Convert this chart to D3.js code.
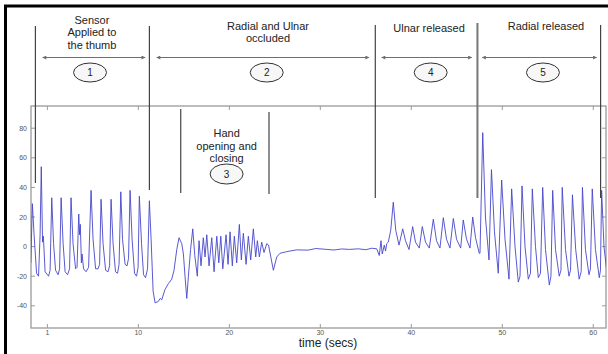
<!DOCTYPE html>
<html>
<head>
<meta charset="utf-8">
<script src="https://cdn.jsdelivr.net/npm/d3@7"></script>
<style>
  html, body { margin: 0; padding: 0; background: #fff; overflow: hidden; }
  svg { display: block; }
</style>
</head>
<body>
<div id="chart"></div>
<script>
// pulse signal: [time (s), amplitude]
const signal = [
  [-1.82,-11],[-1.65,29],[-1.46,8],[-1.19,-18],[-0.97,-20],[-0.80,8],[-0.67,54],[-0.53,3],[-0.44,7],[-0.25,-17],
  [0.13,-20],[0.30,-16],[0.48,33],[0.68,2],[0.90,-16],[1.18,-19],[1.34,-15],[1.51,33],[1.73,2],[1.95,-17],
  [2.22,-19],[2.44,-15],[2.60,33],[2.82,2],[3.10,-15],[3.26,-14],[3.45,22],[3.54,8],[3.62,15],[3.74,-11],
  [3.81,-5],[3.98,-15],[4.25,-17],[4.53,-14],[4.80,38],[5.02,5],[5.30,-15],[5.57,-15],[5.74,-12],[5.90,32],
  [6.12,2],[6.40,-16],[6.67,-17],[6.84,-13],[7.00,32],[7.22,2],[7.49,-17],[7.71,-18],[7.88,-12],[8.07,37],
  [8.26,5],[8.54,-12],[8.76,-13],[8.92,-8],[9.09,38],[9.31,5],[9.58,-18],[9.80,-20],[9.97,-14],[10.11,34],
  [10.35,2],[10.57,-19],[10.79,-21],[11.01,-15],[11.21,31],[11.40,5],[11.62,-30],[11.84,-38],
  [12.20,-37],[12.40,-35],[12.57,-36],[12.93,-29],[13.30,-25],[13.67,-22],[13.92,-16],[14.22,-2],[14.47,6],
  [14.77,2],[14.95,-5],[15.13,-20],[15.32,-35],[15.50,-20],[15.74,-2],[15.98,12],[16.20,-6],[16.48,-20],
  [16.67,4],[16.89,-13],[17.14,6],[17.33,-7],[17.52,8],[17.77,-13],[18.07,6],[18.32,-17],[18.62,7],[18.84,-11],
  [19.06,7],[19.28,-15],[19.64,8],[19.86,-12],[20.08,10],[20.33,-13],[20.55,7],[20.81,-11],[21.10,15],[21.32,-9],
  [21.54,9],[21.84,-12],[22.09,7],[22.35,-9],[22.64,12],[22.90,-7],[23.08,4],[23.30,-7],[23.56,3],[23.81,-4],
  [24.11,2],[24.31,1],[24.84,-16],[25.21,-7],[25.57,-4.5],[26.31,-3.4],[27.41,-2.2],[28.65,-2.4],[29.50,-1.3],
  [30.52,-1.8],[31.50,-2.3],[32.35,-1.6],[33.20,-1.9],[34.18,-1.5],[35.00,-2.1],[35.65,-1.1],
  [36.20,-1.5],[36.48,-6],[36.67,4],[36.81,-5],[37.03,1],[37.17,-3],[37.30,2],[37.47,3],[37.74,11],[38.02,30],
  [38.29,11],[38.65,1],[39.06,12],[39.36,4],[39.75,-2],[40.15,13.5],[40.46,3],[40.88,-1],[41.21,13.5],[41.56,3],
  [41.98,-1],[42.42,18.5],[42.77,4],[43.15,-1],[43.52,19.5],[43.87,5],[44.25,-1],[44.62,19],[44.97,5],[45.43,-1],
  [45.71,18],[46.07,5],[46.45,-1],[46.75,20],[47.06,6],[47.47,-4.5],
  [47.55,-4.5],[47.85,77],[48.15,20],[48.54,-9],[48.81,52],[49.14,10],[49.56,-18],[49.93,45],[50.30,5],[50.74,-22],
  [51.03,39],[51.40,0],[51.76,-24],[51.95,-20],[52.17,41],[52.50,0],[52.86,-22],[53.10,-18],[53.30,39],[53.65,0],
  [53.96,-21],[54.20,-18],[54.44,40],[54.75,-2],[55.17,-26],[55.35,-20],[55.54,38],[55.85,-2],[56.26,-20],[56.45,-16],
  [56.59,40],[56.95,-2],[57.33,-20],[57.50,-16],[57.71,35],[58.07,-2],[58.45,-22],[58.67,-17],[58.81,40],[59.14,-2],
  [59.53,-19],[59.69,-15],[59.89,39],[60.24,-2],[60.66,-21],[60.79,-16],[60.92,38],[61.18,0],[61.45,-15]
];

const xDomain = [-1.8, 61.4];
const yDomain = [-55, 95];
const xTicks = [0, 10, 20, 30, 40, 50, 60];
const xTickLabels = ["1", "10", "20", "30", "40", "50", "60"];
const yTicks = [-40, -20, 0, 20, 40, 60, 80];
const yTickLabels = ["-40", "-20", "0", "20", "40", "60", "80"];
const xLabel = "time (secs)";

// phase boundaries (s) and the stage annotations
const phaseBounds = [-1.32, 11.21, 36.04, 47.27, 60.81];
const handBounds = [14.66, 24.36];
const phaseNums = ["1", "2", "4", "5"];
const phaseText = [
  ["Sensor", "Applied to", "the thumb"],
  ["Radial and Ulnar", "occluded"],
  ["Ulnar released"],
  ["Radial released"]
];
const phaseTextAt = [4.9, 24.25, 41.95, 54.8];
const phaseCircleAt = [4.69, 24.11, 42.13, 54.47];
const phaseArrows = [[-0.51, 10.74], [12.02, 35.35], [36.75, 46.64], [47.8, 60.37]];
const handNum = "3";
const handText = ["Hand", "opening and", "closing"];
const handAt = 19.7;

(function() {
    const W = 608, H = 354;
    const config = {
        colors: { trace: "#4646cc", axis: "#9a9a9a", tick: "#555", ink: "#222", line: "#333", arrow: "#6f6f6f" },
        fonts: { label: '"Liberation Sans", Arial, sans-serif', tick: '"Liberation Sans", Arial, sans-serif' }
    };
    const plot = { left: 31, right: 606, top: 106, bottom: 328 };

    const svg = d3.select("#chart").append("svg")
        .attr("width", W)
        .attr("height", H);

    const x = d3.scaleLinear().domain(xDomain).range([plot.left, plot.right]);
    const y = d3.scaleLinear().domain(yDomain).range([plot.bottom, plot.top]);

    // outer frame
    svg.append("rect")
        .attr("x", 5.5).attr("y", 6)
        .attr("width", 610).attr("height", 360)
        .attr("fill", "#fff")
        .attr("stroke", "#000")
        .attr("stroke-width", 3);

    // plot box
    svg.append("rect")
        .attr("x", plot.left).attr("y", plot.top)
        .attr("width", plot.right - plot.left)
        .attr("height", plot.bottom - plot.top)
        .attr("fill", "#fff")
        .attr("stroke", config.colors.axis)
        .attr("stroke-width", 1.3);

    // ticks pointing inward on all four sides
    const tk = 4;
    const ticks = svg.append("g").attr("stroke", config.colors.axis).attr("stroke-width", 1);
    xTicks.forEach(v => {
        ticks.append("line").attr("x1", x(v)).attr("x2", x(v)).attr("y1", plot.bottom).attr("y2", plot.bottom - tk);
        ticks.append("line").attr("x1", x(v)).attr("x2", x(v)).attr("y1", plot.top).attr("y2", plot.top + tk);
    });
    yTicks.forEach(v => {
        ticks.append("line").attr("x1", plot.left).attr("x2", plot.left + tk).attr("y1", y(v)).attr("y2", y(v));
        ticks.append("line").attr("x1", plot.right).attr("x2", plot.right - tk).attr("y1", y(v)).attr("y2", y(v));
    });

    svg.append("g").selectAll("text")
        .data(xTicks)
        .enter().append("text")
        .attr("x", d => x(d))
        .attr("y", plot.bottom + 6.5)
        .attr("text-anchor", "middle")
        .attr("font-family", config.fonts.tick)
        .attr("font-size", "7px")
        .attr("fill", config.colors.tick)
        .text((d, i) => xTickLabels[i]);

    svg.append("g").selectAll("text")
        .data(yTicks)
        .enter().append("text")
        .attr("x", plot.left - 4)
        .attr("y", d => y(d) + 2.5)
        .attr("text-anchor", "end")
        .attr("font-family", config.fonts.tick)
        .attr("font-size", "7px")
        .attr("fill", config.colors.tick)
        .text((d, i) => yTickLabels[i]);

    svg.append("text")
        .attr("x", 328)
        .attr("y", 346.5)
        .attr("text-anchor", "middle")
        .attr("font-family", config.fonts.label)
        .attr("font-size", "12px")
        .attr("fill", config.colors.ink)
        .text(xLabel);

    // trace
    svg.append("clipPath").attr("id", "clip")
        .append("rect")
        .attr("x", plot.left).attr("y", plot.top)
        .attr("width", plot.right - plot.left)
        .attr("height", plot.bottom - plot.top);

    svg.append("path")
        .datum(signal)
        .attr("clip-path", "url(#clip)")
        .attr("fill", "none")
        .attr("stroke", config.colors.trace)
        .attr("stroke-width", 0.9)
        .attr("stroke-linejoin", "round")
        .attr("d", d3.line().x(d => x(d[0])).y(d => y(d[1])));

    // annotations
    const defs = svg.append("defs");
    defs.append("marker")
        .attr("id", "head")
        .attr("viewBox", "0 0 10 10")
        .attr("refX", 9).attr("refY", 5)
        .attr("markerWidth", 5).attr("markerHeight", 4)
        .attr("orient", "auto-start-reverse")
        .append("path")
        .attr("d", "M0,0L10,5L0,10Z")
        .attr("fill", config.colors.arrow);

    const lineBottoms = [183, 190, 198, 198, 198];
    const lineTops = [26, 26, 25, 23, 25];
    phaseBounds.forEach((t, i) => {
        svg.append("line")
            .attr("x1", x(t)).attr("x2", x(t))
            .attr("y1", lineTops[i]).attr("y2", lineBottoms[i])
            .attr("stroke", i === 3 ? "#777" : config.colors.line)
            .attr("stroke-width", i === 3 ? 2 : 1.1);
    });
    handBounds.forEach((t, i) => {
        svg.append("line")
            .attr("x1", x(t)).attr("x2", x(t))
            .attr("y1", i === 0 ? 109 : 112).attr("y2", i === 0 ? 193 : 194)
            .attr("stroke", config.colors.line)
            .attr("stroke-width", 1.1);
    });

    phaseArrows.forEach(a => {
        svg.append("line")
            .attr("x1", x(a[0])).attr("x2", x(a[1]))
            .attr("y1", 57.5).attr("y2", 57.5)
            .attr("stroke", config.colors.arrow)
            .attr("stroke-width", 1)
            .attr("marker-start", "url(#head)")
            .attr("marker-end", "url(#head)");
    });

    function badge(cx, cy, label, ry) {
        svg.append("ellipse")
            .attr("cx", cx).attr("cy", cy)
            .attr("rx", 16.5).attr("ry", ry)
            .attr("fill", "#f7f7f7")
            .attr("stroke", "#333")
            .attr("stroke-width", 1);
        svg.append("text")
            .attr("x", cx).attr("y", cy + 3.5)
            .attr("text-anchor", "middle")
            .attr("font-family", config.fonts.label)
            .attr("font-size", "10px")
            .attr("fill", config.colors.ink)
            .text(label);
    }

    const textTops = [23.5, 29.5, 31.5, 29.5];
    phaseText.forEach((lines, i) => {
        const t = svg.append("text")
            .attr("text-anchor", "middle")
            .attr("font-family", config.fonts.label)
            .attr("font-size", "11px")
            .attr("fill", config.colors.ink);
        lines.forEach((s, j) => {
            t.append("tspan")
                .attr("x", x(phaseTextAt[i]))
                .attr("y", textTops[i] + j * 12.5)
                .text(s);
        });
        badge(x(phaseCircleAt[i]), 72.5, phaseNums[i], 9.5);
    });

    const ht = svg.append("text")
        .attr("text-anchor", "middle")
        .attr("font-family", config.fonts.label)
        .attr("font-size", "11px")
        .attr("fill", config.colors.ink);
    handText.forEach((s, j) => {
        ht.append("tspan").attr("x", x(handAt)).attr("y", 137 + j * 12.5).text(s);
    });
    badge(x(handAt), 174, handNum, 10);
})();
</script>
</body>
</html>
